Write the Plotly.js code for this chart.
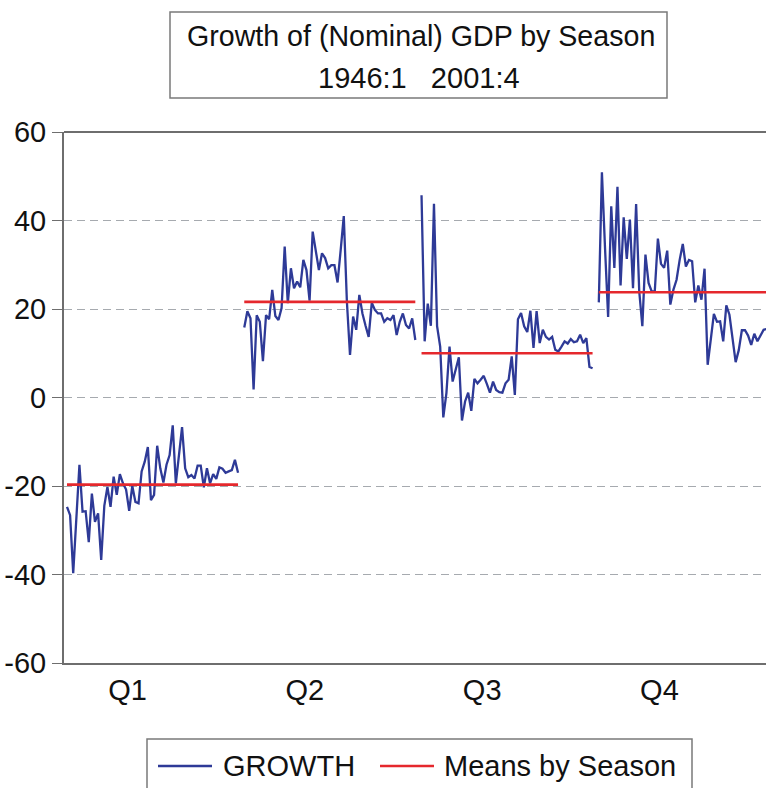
<!DOCTYPE html>
<html>
<head>
<meta charset="utf-8">
<script src="https://cdn.plot.ly/plotly-3.0.1.min.js"></script>
<style>
  html, body { margin: 0; padding: 0; background: #ffffff; }
  #chart { width: 766px; height: 788px; }
</style>
</head>
<body>
<div id="chart"></div>
<script>
// Seasonal growth of nominal GDP, 1946:1 - 2001:4, one panel per quarter
const seasons = ['Q1', 'Q2', 'Q3', 'Q4'];

const growthQ1 = [-24.7, -26.6, -39.7, -27.4, -15.2, -25.8, -25.7, -32.7, -21.7, -28.1,
                  -26.2, -36.7, -24.5, -20.2, -24.7, -17.9, -22.0, -17.3, -19.4, -20.8,
                  -25.6, -20.0, -23.6, -23.9, -16.7, -14.5, -11.2, -23.2, -22.0, -10.9,
                  -16.0, -19.2, -15.2, -13.0, -6.3, -19.4, -12.6, -6.7, -16.0, -18.0,
                  -17.5, -18.3, -15.4, -15.4, -20.3, -16.0, -19.4, -17.3, -18.4, -15.8,
                  -16.1, -17.0, -16.7, -16.4, -14.1, -17.0];

const growthQ2 = [15.8, 19.5, 17.9, 1.8, 18.6, 17.1, 8.2, 18.6, 17.7, 24.3,
                  18.4, 17.5, 20.2, 34.1, 21.3, 29.2, 24.7, 26.2, 24.9, 31.1,
                  28.8, 21.9, 37.5, 32.6, 28.8, 32.6, 31.5, 29.2, 29.9, 29.9,
                  26.0, 33.3, 41.0, 21.7, 9.6, 18.3, 15.3, 23.2, 19.0, 16.2,
                  13.7, 21.4, 19.8, 19.0, 19.0, 17.1, 17.9, 17.5, 18.6, 14.1,
                  17.1, 19.0, 16.4, 15.6, 17.9, 13.0];

const growthQ3 = [45.7, 12.7, 21.2, 16.2, 43.8, 16.1, 11.5, -4.5, 1.0, 11.5,
                  3.6, 6.6, 9.1, -5.2, -0.9, 1.1, -3.0, 4.2, 3.2, 4.0,
                  4.9, 3.1, 1.1, 3.6, 1.7, 1.2, 1.1, 3.2, 4.0, 9.3,
                  0.6, 17.7, 19.1, 16.1, 14.8, 19.6, 11.2, 19.5, 12.3, 15.3,
                  13.7, 13.1, 13.7, 10.8, 10.4, 11.5, 12.7, 12.2, 13.2, 12.5,
                  12.7, 14.2, 12.3, 13.4, 6.9, 6.6];

const growthQ4 = [21.5, 50.9, 33.8, 18.2, 43.2, 29.3, 47.6, 25.3, 40.7, 31.3,
                  40.2, 24.7, 43.7, 24.0, 16.1, 32.3, 25.9, 24.0, 24.0, 35.9,
                  30.2, 29.3, 33.2, 21.0, 24.4, 26.6, 31.1, 34.7, 29.6, 31.1,
                  30.8, 21.5, 25.3, 22.1, 29.1, 7.4, 13.1, 18.9, 17.1, 17.2,
                  12.7, 20.8, 18.7, 13.4, 8.0, 10.7, 15.2, 15.2, 14.0, 11.9,
                  14.4, 12.7, 14.0, 15.3, 15.5, 14.8];

const seasonMeans = [-19.7, 21.6, 10.0, 23.8];

const yTickVals = [-60, -40, -20, 0, 20, 40, 60];
const yTickText = ['-60', '-40', '-20', '0', '20', '40', '60'];

const titleLines = ['Growth of (Nominal) GDP by Season', '1946:1\u00a0\u00a0\u00a02001:4'];
const legendNames = ['GROWTH', 'Means by Season'];

// ---- drawing ----
const BLUE = '#2e3a97';
const RED = '#e5282d';
const FRAME = '#6e6e6e';
const TEXT = '#111111';
const FONT = 'Liberation Sans, Arial, Helvetica, sans-serif';
const PANEL = 57;            // slots per season panel: 56 years plus one gap

const W = 766, H = 788;
const M = { l: 64, r: 0, t: 132, b: 125 };
const plotW = W - M.l - M.r, plotH = H - M.t - M.b;
const px = x => (x - M.l) / plotW;          // canvas x -> paper x
const py = y => (H - M.b - y) / plotH;      // canvas y -> paper y

const series = [growthQ1, growthQ2, growthQ3, growthQ4];
const traces = [];

series.forEach((vals, k) => {
  traces.push({
    type: 'scatter', mode: 'lines',
    x: vals.map((_, i) => k * PANEL + i),
    y: vals,
    line: { color: BLUE, width: 2.3 },
    showlegend: false, hoverinfo: 'skip'
  });
});

seasonMeans.forEach((m, k) => {
  const n = series[k].length;
  traces.push({
    type: 'scatter', mode: 'lines',
    x: [k * PANEL, k * PANEL + n - 1],
    y: [m, m],
    line: { color: RED, width: 2.6 },
    showlegend: false, hoverinfo: 'skip'
  });
});

const shapes = [
  // top edge of the plot frame
  { type: 'line', xref: 'paper', yref: 'paper', x0: 0, x1: 1, y0: 1, y1: 1,
    line: { color: FRAME, width: 2 } },
  // title box
  { type: 'rect', xref: 'paper', yref: 'paper',
    x0: px(170), x1: px(667), y0: py(98), y1: py(12),
    line: { color: '#7a7a7a', width: 1.5 }, fillcolor: 'rgba(0,0,0,0)' },
  // legend box
  { type: 'rect', xref: 'paper', yref: 'paper',
    x0: px(147), x1: px(692), y0: py(739), y1: py(800),
    line: { color: '#7a7a7a', width: 1.5 }, fillcolor: 'rgba(0,0,0,0)' },
  // legend samples
  { type: 'line', xref: 'paper', yref: 'paper', x0: px(158), x1: px(212), y0: py(766), y1: py(766),
    line: { color: BLUE, width: 2.3 } },
  { type: 'line', xref: 'paper', yref: 'paper', x0: px(380), x1: px(434), y0: py(766), y1: py(766),
    line: { color: RED, width: 2.6 } }
];

const annotations = [
  { text: titleLines[0], xref: 'paper', yref: 'paper', x: px(421), y: py(36),
    xanchor: 'center', yanchor: 'middle', showarrow: false,
    font: { family: FONT, size: 28.6, color: TEXT } },
  { text: titleLines[1], xref: 'paper', yref: 'paper', x: px(419), y: py(78),
    xanchor: 'center', yanchor: 'middle', showarrow: false,
    font: { family: FONT, size: 29, color: TEXT } },
  { text: legendNames[0], xref: 'paper', yref: 'paper', x: px(221), y: py(766),
    xanchor: 'left', yanchor: 'middle', showarrow: false,
    font: { family: FONT, size: 29, color: TEXT } },
  { text: legendNames[1], xref: 'paper', yref: 'paper', x: px(442), y: py(766),
    xanchor: 'left', yanchor: 'middle', showarrow: false,
    font: { family: FONT, size: 29, color: TEXT } }
];

const layout = {
  width: W, height: H,
  margin: M,
  paper_bgcolor: '#ffffff',
  plot_bgcolor: '#ffffff',
  font: { family: FONT, size: 29, color: TEXT },
  showlegend: false,
  xaxis: {
    range: [-0.96, 224.76],
    tickvals: seasons.map((_, k) => k * PANEL + 19.5),
    ticktext: seasons,
    ticks: '',
    showgrid: false, zeroline: false,
    showline: true, linecolor: FRAME, linewidth: 2,
    tickfont: { family: FONT, size: 29, color: TEXT },
    fixedrange: true
  },
  yaxis: {
    range: [-60, 60],
    tickvals: yTickVals,
    ticktext: yTickText,
    ticks: 'outside', ticklen: 10, tickwidth: 1, tickcolor: FRAME,
    showline: true, linecolor: FRAME, linewidth: 2,
    showgrid: true, gridcolor: '#a6aaaf', gridwidth: 1, griddash: '8px,5px',
    zeroline: false,
    tickfont: { family: FONT, size: 29, color: TEXT },
    fixedrange: true
  },
  shapes: shapes,
  annotations: annotations
};

Plotly.newPlot('chart', traces, layout, { displayModeBar: false, staticPlot: true });
</script>
</body>
</html>
